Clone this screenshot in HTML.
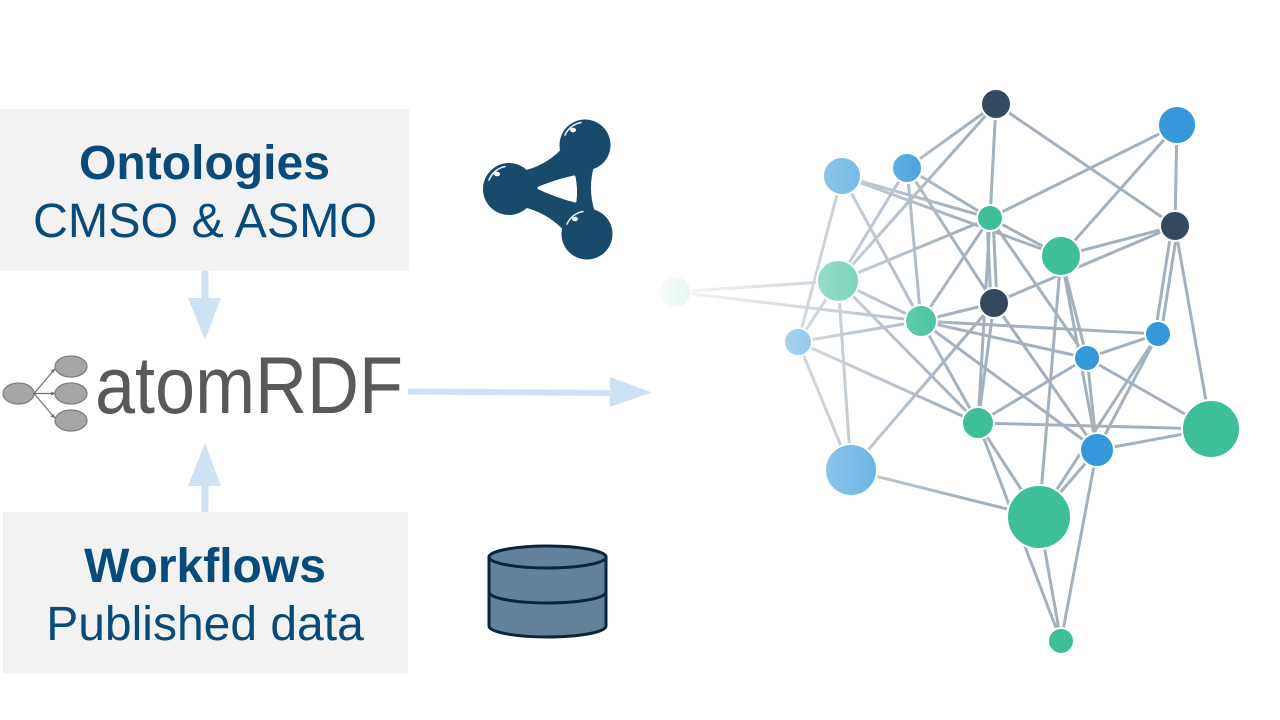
<!DOCTYPE html>
<html>
<head>
<meta charset="utf-8">
<style>
html,body{margin:0;padding:0;background:#ffffff;}
body{width:1280px;height:720px;overflow:hidden;}
svg{display:block;}
</style>
</head>
<body>
<svg width="1280" height="720" viewBox="0 0 1280 720" xmlns="http://www.w3.org/2000/svg">
<defs>
<linearGradient id="fadeG" gradientUnits="userSpaceOnUse" x1="650" y1="0" x2="960" y2="0">
<stop offset="0" stop-color="#000000"/>
<stop offset="1" stop-color="#ffffff"/>
</linearGradient>
<mask id="fadeM" maskUnits="userSpaceOnUse" x="0" y="0" width="1280" height="720">
<rect x="0" y="0" width="1280" height="720" fill="url(#fadeG)"/>
</mask>
</defs>
<rect x="0" y="109" width="409" height="162" fill="#f2f2f2"/>
<text x="79" y="179" font-family="Liberation Sans, Arial, sans-serif" font-weight="bold" font-size="48" fill="#084a7a" textLength="251" lengthAdjust="spacingAndGlyphs">Ontologies</text>
<text x="33" y="237" font-family="Liberation Sans, Arial, sans-serif" font-size="48" fill="#084a7a" textLength="344" lengthAdjust="spacingAndGlyphs">CMSO &amp; ASMO</text>
<rect x="3" y="512" width="405" height="161" fill="#f2f2f2"/>
<text x="205" y="582" text-anchor="middle" font-family="Liberation Sans, Arial, sans-serif" font-weight="bold" font-size="48" fill="#084a7a">Workflows</text>
<text x="205" y="640" text-anchor="middle" font-family="Liberation Sans, Arial, sans-serif" font-size="48" fill="#084a7a">Published data</text>
<g fill="#cfe2f3">
<rect x="201.5" y="271" width="7" height="28"/>
<polygon points="188,298 221,298 205,340"/>
<rect x="201.5" y="485" width="7" height="27"/>
<polygon points="188,486 221,486 205,443"/>
<polygon points="408,388.5 612,390 612,396 408,394.5"/>
<polygon points="610,377 652,392.5 610,407"/>
</g>
<g stroke="#7f7f7f" stroke-width="1.3" fill="#a6a6a6">
<ellipse cx="18.5" cy="393.5" rx="15.5" ry="10.5"/>
<ellipse cx="71" cy="366.5" rx="16" ry="10.5"/>
<ellipse cx="71" cy="393.5" rx="16" ry="10.5"/>
<ellipse cx="71" cy="420.5" rx="16" ry="10.5"/>
</g>
<g stroke="#6f6f6f" stroke-width="1.2" fill="none">
<line x1="34" y1="393.5" x2="54" y2="370"/>
<line x1="34" y1="393.5" x2="54" y2="393.5"/>
<line x1="34" y1="393.5" x2="54" y2="417"/>
</g>
<g fill="#6f6f6f">
<polygon points="55.5,368.5 50.5,370.5 53.5,373"/>
<polygon points="55.5,393.5 51,391.5 51,395.5"/>
<polygon points="55.5,418.5 53.5,414 50.5,416.5"/>
</g>
<text x="95" y="413" font-family="Liberation Sans, Arial, sans-serif" font-size="81" fill="#595959" textLength="308" lengthAdjust="spacingAndGlyphs">atomRDF</text>
<g fill="#174a6b">
<path d="M500,173.4 Q551,173.5 576,129.4 L603,144.6 Q578,189.7 605,233.6 L578,249.6 Q552,204.5 500,204.6 Z"/>
<circle cx="585" cy="145" r="25.5"/>
<circle cx="509" cy="189" r="26"/>
<circle cx="587" cy="234" r="25.5"/>
</g>
<path d="M539,188 Q556,181 574,177 Q576.5,189 575,201 Q556,196 539,188 Z" fill="#ffffff" stroke="#ffffff" stroke-width="3" stroke-linejoin="round"/>
<g fill="none" stroke="#ffffff" stroke-width="1.6" stroke-linecap="round" opacity="0.9">
<path d="M565,135 A22,22 0 0 1 581,122.5"/>
<path d="M489,180 A22,22 0 0 1 505,166.5"/>
<path d="M567,224 A22,22 0 0 1 583,211.5"/>
</g>
<g fill="#ffffff">
<ellipse cx="573" cy="130" rx="3" ry="2.3"/>
<ellipse cx="497" cy="174" rx="3" ry="2.3"/>
<ellipse cx="575" cy="219" rx="3" ry="2.3"/>
</g>
<g fill="#62829c" stroke="#0c2438" stroke-width="3">
<path d="M489,557 L489,626 A58.5,11 0 0 0 606,626 L606,557 Z"/>
<path d="M489,592 A58.5,11 0 0 0 606,592" fill="none"/>
<ellipse cx="547.5" cy="557" rx="58.5" ry="11"/>
</g>
<g mask="url(#fadeM)">
<g stroke="#a3b1bf" stroke-width="3" stroke-linecap="round">
<line x1="996" y1="104" x2="907" y2="168"/>
<line x1="996" y1="104" x2="838" y2="281"/>
<line x1="996" y1="104" x2="990" y2="218"/>
<line x1="996" y1="104" x2="1175" y2="226"/>
<line x1="1177" y1="125" x2="990" y2="218"/>
<line x1="1177" y1="125" x2="1061" y2="256"/>
<line x1="1177" y1="125" x2="1175" y2="226"/>
<line x1="842" y1="176" x2="990" y2="218"/>
<line x1="842" y1="176" x2="1061" y2="256"/>
<line x1="842" y1="176" x2="798" y2="342"/>
<line x1="842" y1="176" x2="921" y2="321"/>
<line x1="907" y1="168" x2="838" y2="281"/>
<line x1="907" y1="168" x2="921" y2="321"/>
<line x1="907" y1="168" x2="994" y2="303"/>
<line x1="907" y1="168" x2="990" y2="218"/>
<line x1="990" y1="218" x2="1061" y2="256"/>
<line x1="990" y1="218" x2="838" y2="281"/>
<line x1="990" y1="218" x2="921" y2="321"/>
<line x1="987" y1="218" x2="991" y2="303"/>
<line x1="993" y1="218" x2="997" y2="303"/>
<line x1="990" y1="218" x2="1087" y2="358"/>
<line x1="990" y1="218" x2="978" y2="423"/>
<line x1="1061" y1="256" x2="1175" y2="226"/>
<line x1="1061" y1="256" x2="1039" y2="517"/>
<line x1="1061" y1="256" x2="1087" y2="358"/>
<line x1="1061" y1="256" x2="1097" y2="450"/>
<line x1="1175" y1="226" x2="994" y2="303"/>
<line x1="1172" y1="226" x2="1155" y2="334"/>
<line x1="1178" y1="226" x2="1161" y2="334"/>
<line x1="1175" y1="226" x2="1211" y2="429"/>
<line x1="838" y1="281" x2="675" y2="292"/>
<line x1="838" y1="281" x2="798" y2="342"/>
<line x1="838" y1="281" x2="851" y2="470"/>
<line x1="838" y1="281" x2="921" y2="321"/>
<line x1="838" y1="281" x2="978" y2="423"/>
<line x1="921" y1="321" x2="675" y2="292"/>
<line x1="921" y1="321" x2="798" y2="342"/>
<line x1="921" y1="321" x2="994" y2="303"/>
<line x1="921" y1="321" x2="1158" y2="334"/>
<line x1="921" y1="321" x2="1087" y2="358"/>
<line x1="921" y1="321" x2="1097" y2="450"/>
<line x1="921" y1="321" x2="978" y2="423"/>
<line x1="798" y1="342" x2="978" y2="423"/>
<line x1="798" y1="342" x2="851" y2="470"/>
<line x1="994" y1="303" x2="978" y2="423"/>
<line x1="994" y1="303" x2="851" y2="470"/>
<line x1="994" y1="303" x2="1097" y2="450"/>
<line x1="1087" y1="358" x2="1158" y2="334"/>
<line x1="1087" y1="358" x2="1211" y2="429"/>
<line x1="1087" y1="358" x2="1097" y2="450"/>
<line x1="1087" y1="358" x2="978" y2="423"/>
<line x1="1158" y1="334" x2="1097" y2="450"/>
<line x1="1158" y1="334" x2="1039" y2="517"/>
<line x1="1097" y1="450" x2="1211" y2="429"/>
<line x1="1097" y1="450" x2="1039" y2="517"/>
<line x1="1097" y1="450" x2="1061" y2="641"/>
<line x1="978" y1="423" x2="1211" y2="429"/>
<line x1="978" y1="423" x2="1039" y2="517"/>
<line x1="978" y1="423" x2="1061" y2="641"/>
<line x1="851" y1="470" x2="1039" y2="517"/>
<line x1="1039" y1="517" x2="1061" y2="641"/>
</g>
<g stroke="#ffffff" stroke-width="2">
<circle cx="675" cy="292" r="16" fill="#3ebf9a"/>
<circle cx="996" cy="104" r="15" fill="#34495e"/>
<circle cx="1177" cy="125" r="19" fill="#3598db"/>
<circle cx="842" cy="176" r="19" fill="#3598db"/>
<circle cx="907" cy="168" r="15" fill="#3598db"/>
<circle cx="990" cy="218" r="13" fill="#3ebf9a"/>
<circle cx="1061" cy="256" r="20" fill="#3ebf9a"/>
<circle cx="1175" cy="226" r="15" fill="#34495e"/>
<circle cx="838" cy="281" r="21" fill="#3ebf9a"/>
<circle cx="994" cy="303" r="15" fill="#34495e"/>
<circle cx="921" cy="321" r="16" fill="#3ebf9a"/>
<circle cx="798" cy="342" r="14" fill="#3598db"/>
<circle cx="1087" cy="358" r="13" fill="#3598db"/>
<circle cx="1158" cy="334" r="13" fill="#3598db"/>
<circle cx="978" cy="423" r="16" fill="#3ebf9a"/>
<circle cx="1097" cy="450" r="17" fill="#3598db"/>
<circle cx="1211" cy="429" r="29" fill="#3ebf9a"/>
<circle cx="851" cy="470" r="26" fill="#3598db"/>
<circle cx="1039" cy="517" r="32" fill="#3ebf9a"/>
<circle cx="1061" cy="641" r="13" fill="#3ebf9a"/>
</g>
</g>
</svg>
</body>
</html>
